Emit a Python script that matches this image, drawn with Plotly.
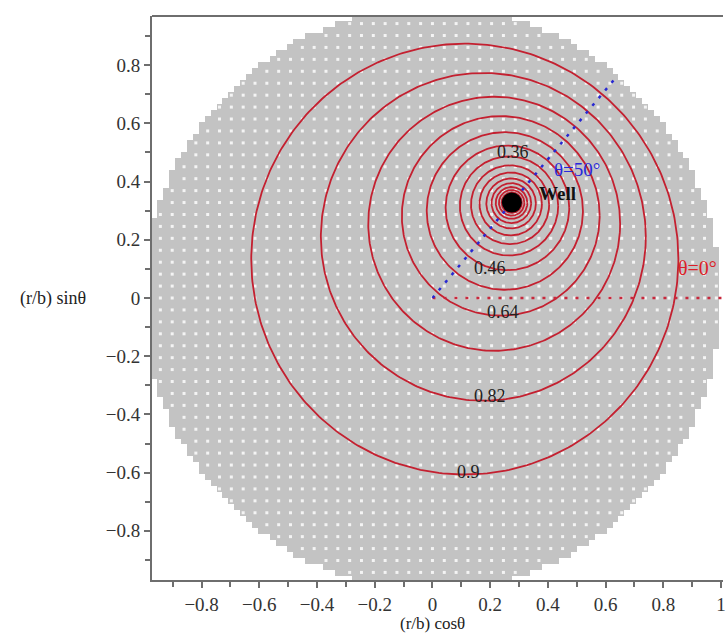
import numpy as np
import plotly.graph_objects as go

# ---------------- data ----------------
DISK_RADIUS = 1.0            # r/b domain (grey disc)
CELL = 0.0205                # grey cell size
DOT_STEP = 0.041             # white dot spacing

WELL_R = 0.428               # well position (r/b)
WELL_THETA_DEG = 50.0

# contour circles (centre distance along theta=50 deg ray, radius)
CONTOUR_CENTER_DIST = [0.1745, 0.2743, 0.3329, 0.3683, 0.3903, 0.4043, 0.4129,
                       0.4185, 0.4219, 0.4241, 0.4255, 0.4264, 0.4270, 0.4274, 0.4277]
CONTOUR_RADIUS = [0.7402, 0.5631, 0.4365, 0.3428, 0.2707, 0.2142, 0.1704,
                  0.1354, 0.1082, 0.0859, 0.0687, 0.0548, 0.0441, 0.0351, 0.0280]

LABEL_TEXT = ["0.9", "0.82", "0.64", "0.46", "0.36"]
LABEL_X = [0.124, 0.200, 0.245, 0.200, 0.279]
LABEL_Y = [-0.598, -0.337, -0.048, 0.103, 0.502]

RAY_50_END = 0.98            # blue dotted ray length
RAY_0_END = 1.05             # red dotted ray length

X_RANGE = [-0.972, 1.007]
Y_RANGE = [-0.969, 0.969]

SERIF = "Liberation Serif, Times New Roman, serif"

fig = go.Figure()

# grey disc as a heatmap of cells
n = int(np.ceil(DISK_RADIUS / CELL)) + 1
g = np.arange(-n, n + 1) * CELL
GX, GY = np.meshgrid(g, g)
Z = np.where(GX**2 + GY**2 <= DISK_RADIUS**2, 1.0, np.nan)
fig.add_trace(go.Heatmap(x=g, y=g, z=Z, colorscale=[[0, "#c3c3c3"], [1, "#c3c3c3"]],
                         showscale=False, hoverinfo="skip"))

# white dots
m = int(np.ceil(DISK_RADIUS / DOT_STEP)) + 1
d = np.arange(-m, m + 1) * DOT_STEP
DX, DY = np.meshgrid(d, d)
inside = DX**2 + DY**2 <= (DISK_RADIUS - 0.01)**2
fig.add_trace(go.Scatter(x=DX[inside], y=DY[inside], mode="markers",
                         marker=dict(symbol="square", size=3, color="#f4f4f4", line=dict(width=0)),
                         hoverinfo="skip", showlegend=False))

# contour circles
th = np.radians(WELL_THETA_DEG)
t = np.linspace(0, 2 * np.pi, 361)
for dist, rad in zip(CONTOUR_CENTER_DIST, CONTOUR_RADIUS):
    cx, cy = dist * np.cos(th), dist * np.sin(th)
    fig.add_trace(go.Scatter(x=cx + rad * np.cos(t), y=cy + rad * np.sin(t), mode="lines",
                             line=dict(color="rgb(196,32,48)", width=1.8),
                             hoverinfo="skip", showlegend=False))

# theta = 0 red dotted ray
fig.add_trace(go.Scatter(x=[0, RAY_0_END], y=[0, 0], mode="lines",
                         line=dict(color="rgb(200,40,60)", width=2.5, dash="3px,8px"),
                         hoverinfo="skip", showlegend=False))
# theta = 50 blue dotted ray
fig.add_trace(go.Scatter(x=[0, RAY_50_END * np.cos(th)], y=[0, RAY_50_END * np.sin(th)],
                         mode="lines", line=dict(color="rgb(40,40,210)", width=2.5, dash="3px,7px"),
                         hoverinfo="skip", showlegend=False))

# well
fig.add_trace(go.Scatter(x=[WELL_R * np.cos(th)], y=[WELL_R * np.sin(th)], mode="markers",
                         marker=dict(size=20, color="black"), hoverinfo="skip", showlegend=False))

ann = []
for txt, lx, ly in zip(LABEL_TEXT, LABEL_X, LABEL_Y):
    ann.append(dict(x=lx, y=ly, xref="x", yref="y", text=txt, showarrow=False,
                    font=dict(family=SERIF, size=18, color="#222")))
ann.append(dict(x=0.434, y=0.358, xref="x", yref="y", text="<b>Well</b>", showarrow=False,
                font=dict(family=SERIF, size=19, color="#111")))
ann.append(dict(x=0.50, y=0.44, xref="x", yref="y", text="θ=50°", showarrow=False,
                font=dict(family=SERIF, size=19, color="rgb(40,40,220)")))
ann.append(dict(x=0.917, y=0.103, xref="x", yref="y", text="θ=0°", showarrow=False,
                font=dict(family=SERIF, size=20, color="rgb(220,30,40)")))
ann.append(dict(x=0, y=0, xref="x", yref="paper", yanchor="top", yshift=-32,
                text="(r/b) cosθ", showarrow=False, font=dict(family=SERIF, size=17, color="#222")))
ann.append(dict(x=0, y=0, xref="paper", yref="y", xanchor="right", xshift=-64,
                text="(r/b) sinθ", showarrow=False, font=dict(family=SERIF, size=18, color="#222")))

axis_common = dict(showgrid=False, zeroline=False, showline=True, linecolor="#6e6e6e",
                   linewidth=2, ticks="outside", ticklen=6, tickwidth=1.5, tickcolor="#6e6e6e",
                   tick0=0, dtick=0.2, tickfont=dict(family=SERIF, size=19, color="#333"),
                   ticklabeloverflow="allow",
                   minor=dict(ticks="outside", dtick=0.1, ticklen=5, tickwidth=1.5,
                              tickcolor="#6e6e6e", showgrid=False))

fig.update_layout(
    width=726, height=633, autosize=False,
    margin=dict(l=152, r=0, t=16, b=53),
    plot_bgcolor="white", paper_bgcolor="white",
    showlegend=False,
    xaxis=dict(range=X_RANGE, **axis_common),
    yaxis=dict(range=Y_RANGE, **axis_common),
    annotations=ann,
    shapes=[dict(type="line", xref="paper", yref="paper", x0=0, x1=1, y0=1, y1=1,
                 line=dict(color="#6e6e6e", width=2))],
)

fig.write_html("out.html", config={"displayModeBar": False},
               post_script="document.body.style.margin='0';document.body.style.overflow='hidden';")
